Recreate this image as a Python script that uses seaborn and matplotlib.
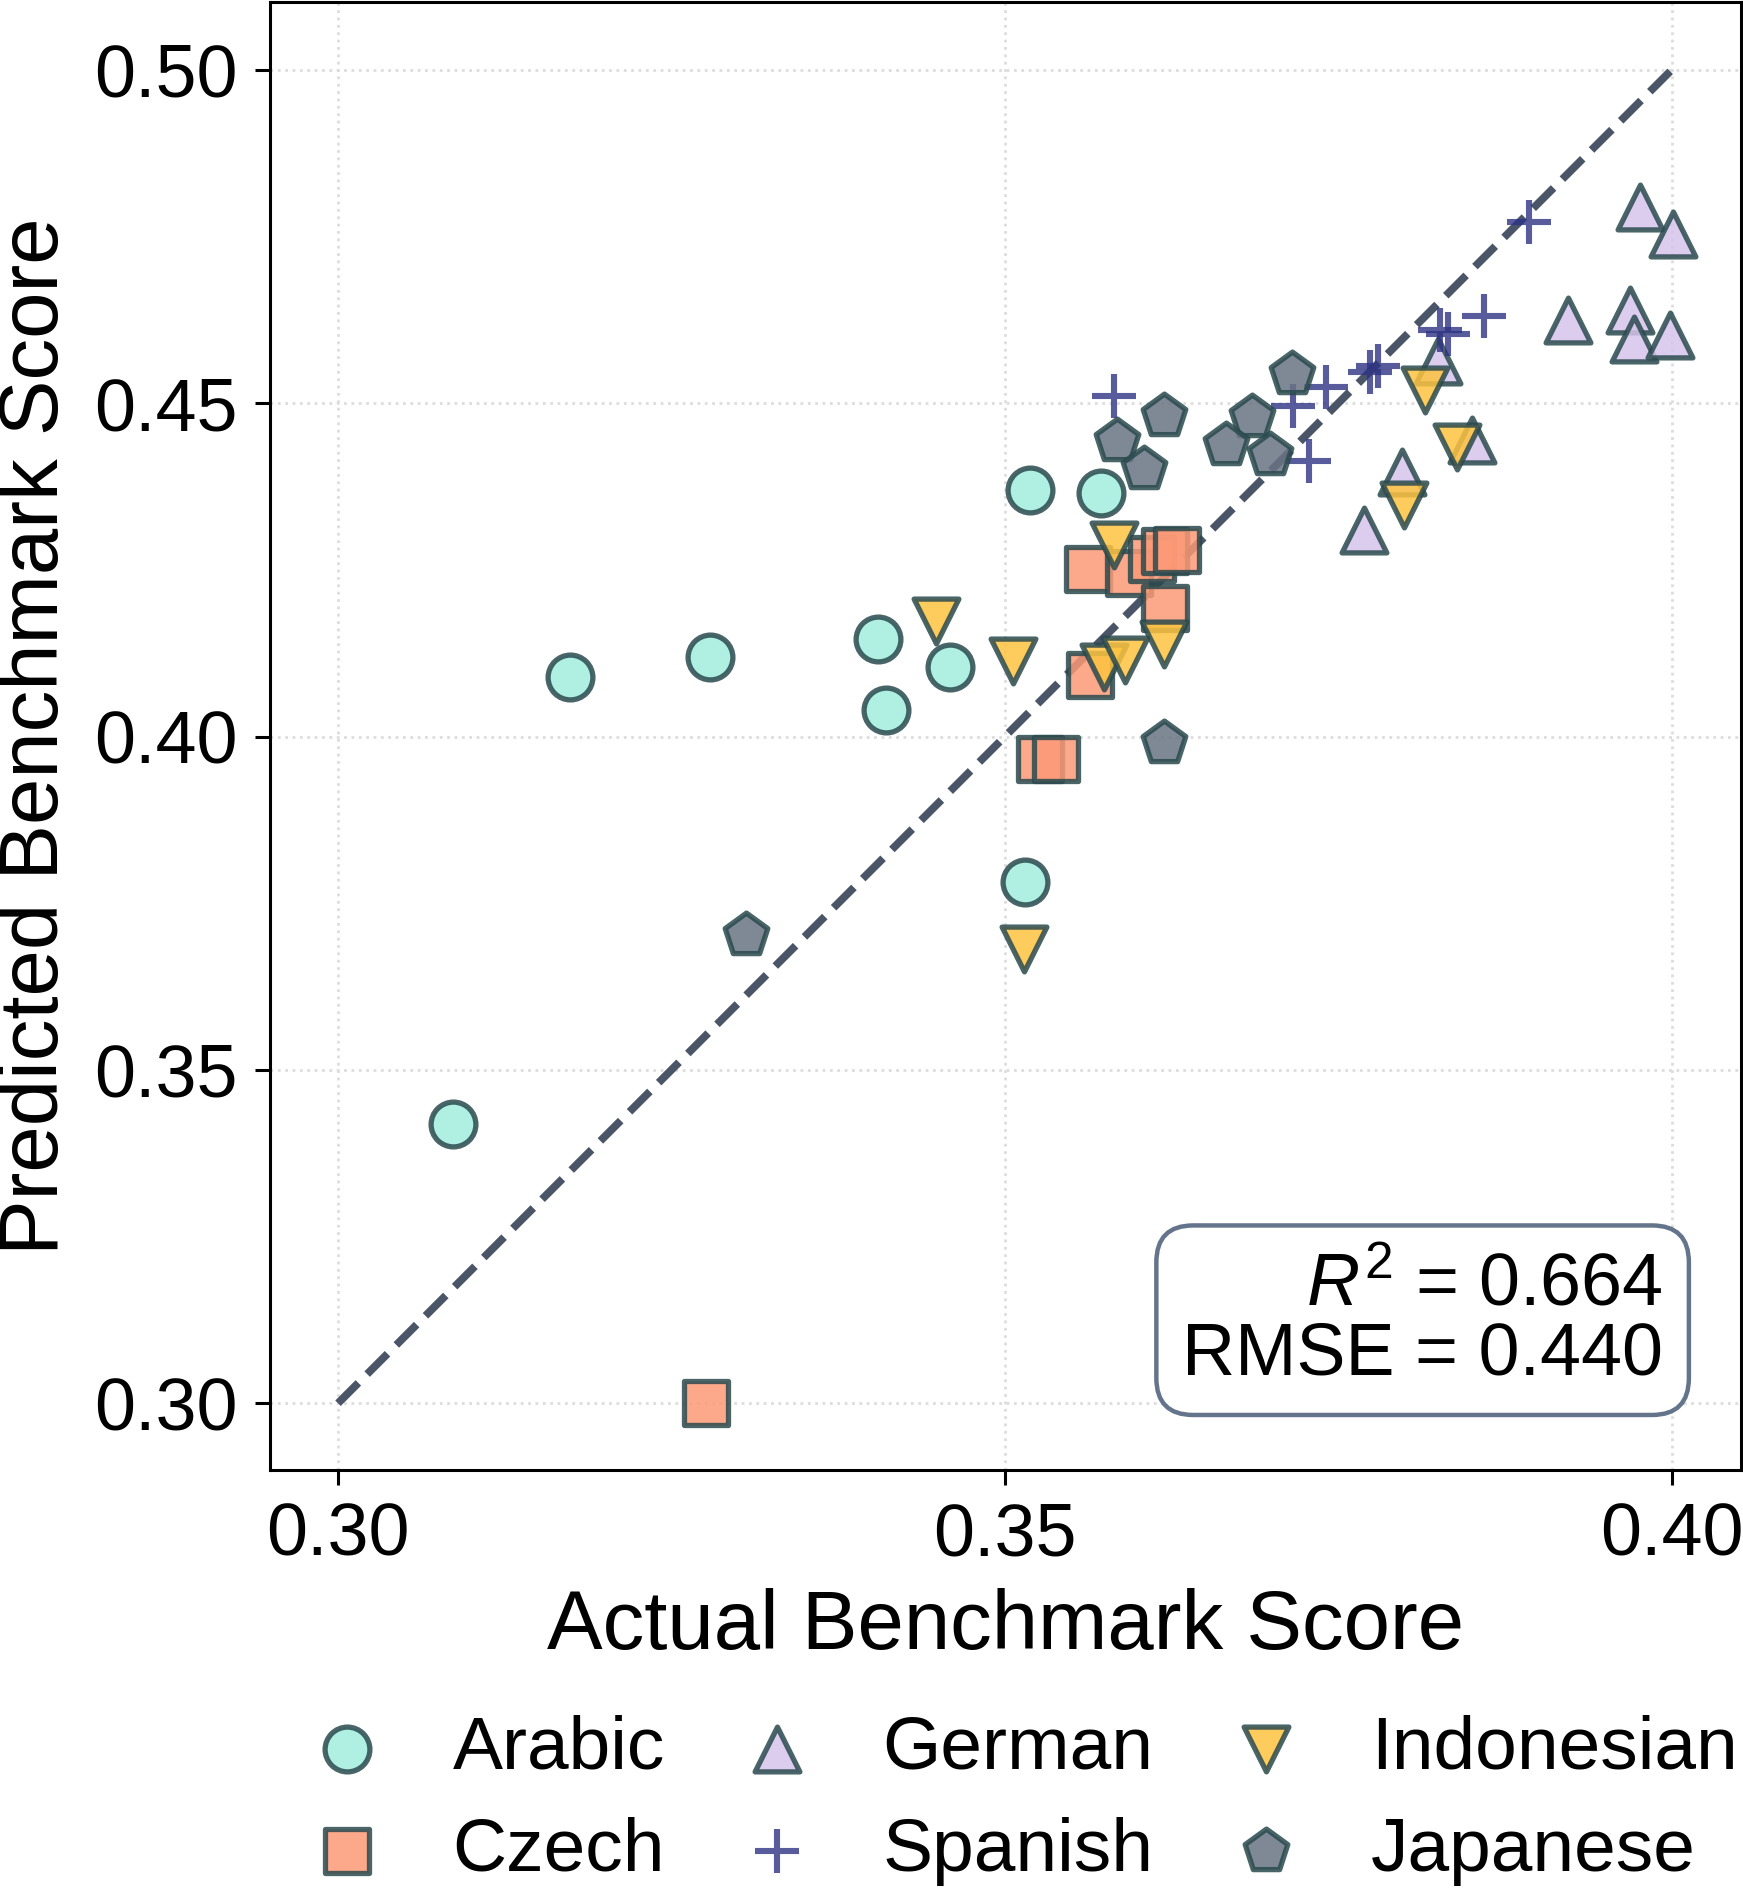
import matplotlib
matplotlib.use("Agg")
import matplotlib.pyplot as plt
import seaborn as sns
import pandas as pd

# ---------------- data ----------------
arabic_x = [0.3174, 0.3279, 0.3405, 0.3411, 0.3459, 0.3519, 0.3572, 0.3515, 0.3086]
arabic_y = [0.4090, 0.4120, 0.4147, 0.4040, 0.4105, 0.4370, 0.4366, 0.3782, 0.3419]

czech_x = [0.3276, 0.3562, 0.3593, 0.3610, 0.3620, 0.3629, 0.3620, 0.3564, 0.3526, 0.3538]
czech_y = [0.3000, 0.4252, 0.4245, 0.4266, 0.4278, 0.4280, 0.4193, 0.4093, 0.3967, 0.3967]

german_x = [0.3976, 0.4001, 0.3922, 0.3969, 0.3972, 0.3999, 0.3825, 0.3850, 0.3798, 0.3769]
german_y = [0.4794, 0.4754, 0.4625, 0.4640, 0.4596, 0.4602, 0.4563, 0.4444, 0.4397, 0.4310]

spanish_x = [0.3893, 0.3859, 0.3826, 0.3832, 0.3780, 0.3774, 0.3582, 0.3716, 0.3741, 0.3728]
spanish_y = [0.4772, 0.4630, 0.4610, 0.4604, 0.4555, 0.4546, 0.4510, 0.4495, 0.4524, 0.4413]

indonesian_x = [0.3582, 0.3506, 0.3574, 0.3590, 0.3619, 0.3448, 0.3514, 0.3815, 0.3839, 0.3799]
indonesian_y = [0.4287, 0.4114, 0.4105, 0.4115, 0.4139, 0.4173, 0.3681, 0.4519, 0.4434, 0.4348]

japanese_x = [0.3715, 0.3619, 0.3584, 0.3604, 0.3685, 0.3666, 0.3699, 0.3619, 0.3306]
japanese_y = [0.4544, 0.4481, 0.4443, 0.4401, 0.4479, 0.4437, 0.4422, 0.3990, 0.3702]

languages = ["Arabic", "Czech", "German", "Spanish", "Indonesian", "Japanese"]
xs = [arabic_x, czech_x, german_x, spanish_x, indonesian_x, japanese_x]
ys = [arabic_y, czech_y, german_y, spanish_y, indonesian_y, japanese_y]

ref_line_x = [0.30, 0.40]
ref_line_y = [0.30, 0.50]

r2_value = 0.664
rmse_value = 0.440

x_ticks = [0.30, 0.35, 0.40]
y_ticks = [0.30, 0.35, 0.40, 0.45, 0.50]

# ---------------- style ----------------
sns.set_theme(style="white")
plt.rcParams["font.family"] = ["Liberation Sans", "DejaVu Sans"]
plt.rcParams["mathtext.fontset"] = "custom"
plt.rcParams["mathtext.rm"] = "Liberation Sans"
plt.rcParams["mathtext.it"] = "Liberation Sans:italic"
plt.rcParams["text.color"] = "black"
plt.rcParams["axes.labelcolor"] = "black"
plt.rcParams["xtick.color"] = "black"
plt.rcParams["ytick.color"] = "black"

colors = {
    "Arabic": "#A2EEDD",
    "Czech": "#FC9976",
    "German": "#D6C4EB",
    "Spanish": "#2E3384",
    "Indonesian": "#FEC33F",
    "Japanese": "#697383",
}
markers = {
    "Arabic": "o",
    "Czech": "s",
    "German": "^",
    "Spanish": "+",
    "Indonesian": "v",
    "Japanese": "p",
}
edge = "#2A4A4E"

fig = plt.figure(figsize=(8.715, 9.465), dpi=200)
ax = fig.add_axes([0.1549, 0.2235, 0.844, 0.7752])

S = 260
for lang, x, y in zip(languages, xs, ys):
    df = pd.DataFrame({"actual": x, "predicted": y})
    if markers[lang] == "+":
        sns.scatterplot(data=df, x="actual", y="predicted", ax=ax, marker="+",
                        color=colors[lang], s=S, linewidth=2.2, alpha=0.8,
                        label=lang, zorder=3)
    else:
        sns.scatterplot(data=df, x="actual", y="predicted", ax=ax,
                        marker=markers[lang], color=colors[lang], s=S,
                        edgecolor=edge, linewidth=1.9, alpha=0.85,
                        label=lang, zorder=3)

ax.plot(ref_line_x, ref_line_y, linestyle="--", color="#4A5568", lw=2.8, zorder=2)

ax.set_xlim(0.2949, 0.4052)
ax.set_ylim(0.2900, 0.5101)
ax.set_xticks(x_ticks)
ax.set_yticks(y_ticks)
ax.set_xticklabels([f"{t:.2f}" for t in x_ticks])
ax.set_yticklabels([f"{t:.2f}" for t in y_ticks])
ax.tick_params(axis="both", labelsize=26.5, length=5.5, width=1.1,
               direction="out", pad=6, bottom=True, left=True,
               color="black", labelcolor="black")

ax.grid(True, linestyle=":", color="#DDDDDD", lw=1.0)
for sp in ax.spines.values():
    sp.set_color("black")
    sp.set_linewidth(1.1)

ax.set_xlabel("Actual Benchmark Score", fontsize=30, labelpad=6, color="black")
ax.set_ylabel("Predicted Benchmark Score", fontsize=30, labelpad=7, color="black")

ax.text(0.947, 0.055, f"$R^2$ = {r2_value:.3f}\nRMSE = {rmse_value:.3f}",
        transform=ax.transAxes, ha="right", va="bottom", fontsize=26.5,
        multialignment="right", linespacing=1.0, zorder=5, color="black",
        bbox=dict(boxstyle="round,pad=0.35,rounding_size=0.5", facecolor="white",
                  edgecolor="#64748B", linewidth=1.6))

handles, labels = ax.get_legend_handles_labels()
leg = ax.legend(handles, labels, loc="center",
                bbox_to_anchor=(1020 / 1743, 1 - 1800 / 1893),
                bbox_transform=fig.transFigure, ncol=3, frameon=False, fontsize=27,
                handlelength=1.2, handletextpad=0.8, columnspacing=0.9,
                labelspacing=0.44)
for t in leg.get_texts():
    t.set_color("black")

fig.savefig("out.png", dpi=200)
